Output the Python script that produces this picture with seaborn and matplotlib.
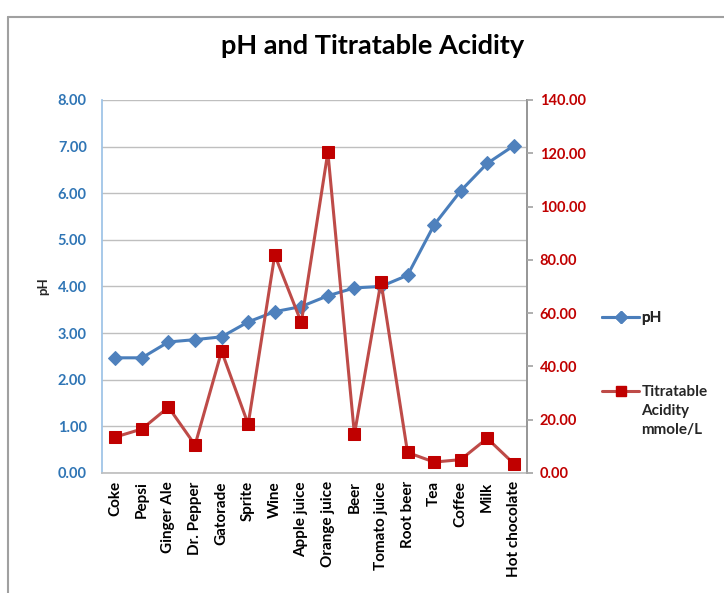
import matplotlib
matplotlib.use("Agg")
import matplotlib.pyplot as plt
from matplotlib.lines import Line2D
import numpy as np
import pandas as pd
import seaborn as sns

# Data
drinks = ["Coke", "Pepsi", "Ginger Ale", "Dr. Pepper", "Gatorade", "Sprite", "Wine",
          "Apple juice", "Orange juice", "Beer", "Tomato juice", "Root beer", "Tea",
          "Coffee", "Milk", "Hot chocolate"]
ph = [2.47, 2.47, 2.81, 2.86, 2.92, 3.24, 3.46, 3.57, 3.80, 3.97, 4.00, 4.24, 5.32, 6.05, 6.64, 7.02]
acidity = [13.5, 16.5, 24.7, 10.5, 45.7, 18.3, 81.8, 56.5, 120.4, 14.5, 71.8, 7.7, 4.1, 5.0, 13.0, 3.5]

left_ticks = [0, 1, 2, 3, 4, 5, 6, 7, 8]
right_ticks = [0, 20, 40, 60, 80, 100, 120, 140]

BLUE_LINE = "#4A7EBB"
BLUE_MARK = "#4F81BD"
BLUE_TEXT = "#2F75B5"
RED_LINE = "#BE4B48"
RED_MARK = "#C00000"
RED_TEXT = "#C00000"

sns.set_theme(style="white")
plt.rcParams["font.family"] = ["Lato", "DejaVu Sans"]
plt.rcParams["font.weight"] = "bold"

df = pd.DataFrame({"idx": np.arange(len(drinks)), "drink": drinks, "ph": ph, "ta": acidity})

fig = plt.figure(figsize=(7.24, 5.93), dpi=100)
ax = fig.add_axes([0.141, 0.2024, 0.587, 0.629])
ax2 = ax.twinx()

sns.lineplot(data=df, x="idx", y="ph", ax=ax, color=BLUE_LINE, linewidth=2.2,
             marker="D", markersize=7, markerfacecolor=BLUE_MARK, markeredgecolor=BLUE_MARK)
sns.lineplot(data=df, x="idx", y="ta", ax=ax2, color=RED_LINE, linewidth=2.2,
             marker="s", markersize=8, markerfacecolor=RED_MARK, markeredgecolor=RED_MARK)

ax.set_xlim(-0.5, len(drinks) - 0.5)
ax.set_ylim(0, 8)
ax2.set_ylim(0, 140)
ax.set_yticks(left_ticks)
ax.set_yticklabels([f"{v:.2f}" for v in left_ticks], color=BLUE_TEXT, fontsize=10.5, fontweight="bold")
ax2.set_yticks(right_ticks)
ax2.set_yticklabels([f"{v:.2f}" for v in right_ticks], color=RED_TEXT, fontsize=10.5, fontweight="bold")
ax.set_xticks(df["idx"])
ax.set_xticklabels(drinks, rotation=90, fontsize=11, fontweight="bold", color="#000000")

ax.yaxis.grid(True, color="#BFBFBF", linewidth=1.0)
ax.set_axisbelow(True)
ax.set_xlabel("")
ax.set_ylabel("pH", fontsize=9.5, fontweight="bold", labelpad=6)
ax2.set_ylabel("")

for a in (ax, ax2):
    a.spines["top"].set_visible(False)
ax.spines["left"].set_color("#9DC3E6")
ax.spines["bottom"].set_color("#BFBFBF")
ax2.spines["left"].set_visible(False)
ax2.spines["right"].set_color("#A6A6A6")
ax2.spines["bottom"].set_visible(False)
ax.tick_params(axis="x", length=0, pad=6)
ax.tick_params(axis="y", length=0, pad=11)
ax2.tick_params(axis="y", length=4, color="#A6A6A6", pad=5, direction="out", right=True)

fig.text(0.515, 0.922, "pH and Titratable Acidity", ha="center", va="center",
         fontsize=19.5, fontweight="bold", color="#000000")

h1 = Line2D([], [], color=BLUE_LINE, linewidth=2.2, marker="D", markersize=6,
            markerfacecolor=BLUE_MARK, markeredgecolor=BLUE_MARK)
h2 = Line2D([], [], color=RED_LINE, linewidth=2.2, marker="s", markersize=7,
            markerfacecolor=RED_MARK, markeredgecolor=RED_MARK)
leg1 = fig.legend([h1], ["pH"], loc="center left", bbox_to_anchor=(0.832, 0.463),
                  frameon=False, fontsize=11, handlelength=2.4, handletextpad=0.15,
                  borderaxespad=0, borderpad=0)
leg2 = fig.legend([h2], ["Titratable"], loc="center left", bbox_to_anchor=(0.832, 0.339),
                  frameon=False, fontsize=11, handlelength=2.4, handletextpad=0.15,
                  borderaxespad=0, borderpad=0)
fig.add_artist(leg1)

# remaining lines of the acidity legend label, under "Titratable"
fig.canvas.draw()
bb = leg2.get_texts()[0].get_window_extent().transformed(fig.transFigure.inverted())
fig.text(bb.x0, bb.y0 - 0.008, "Acidity\nmmole/L", ha="left", va="top",
         fontsize=11, fontweight="bold", linespacing=1.45)

# outer chart frame
fig.add_artist(Line2D([0.011, 0.011], [0.0, 0.971], color="#A0A0A0", linewidth=1.5,
                      transform=fig.transFigure))
fig.add_artist(Line2D([0.011, 1.0], [0.971, 0.971], color="#A0A0A0", linewidth=1.5,
                      transform=fig.transFigure))

fig.savefig("out.png", dpi=100)
